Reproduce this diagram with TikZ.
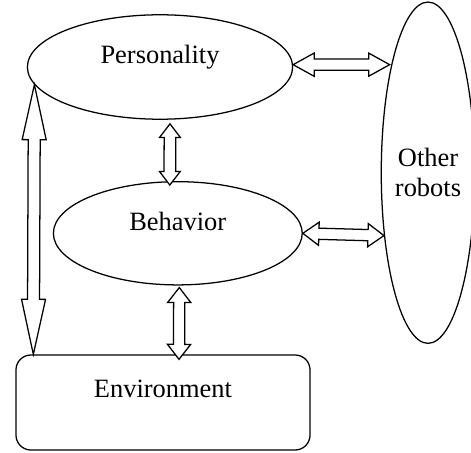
\documentclass[tikz,border=0pt]{standalone}
\usepackage{fontspec}
\setmainfont{Liberation Serif}
\usepackage{tikz}
\usetikzlibrary{shapes.geometric,calc}

\tikzset{
  twoway/.style n args={3}{draw,fill=white,to path={
    let \p1=(\tikztostart), \p2=(\tikztotarget),
        \n1={atan2(\y2-\y1,\x2-\x1)}, \n2={veclen(\x2-\x1,\y2-\y1)} in
    [shift={(\p1)},rotate=\n1]
    (0pt,0pt) -- (#1,#2) -- (#1,#3) -- ({\n2*1pt-#1},#3) -- ({\n2*1pt-#1},#2) -- ({\n2*1pt},0pt)
    -- ({\n2*1pt-#1},-#2) -- ({\n2*1pt-#1},-#3) -- (#1,-#3) -- (#1,-#2) -- cycle}}
}

\begin{document}
\begin{tikzpicture}[x=0.025cm,y=-0.025cm,line width=0.9pt,
  font=\fontsize{18.8}{21.3}\selectfont,
  bubble/.style={ellipse,draw,inner sep=0pt}]
\useasboundingbox (0,0) rectangle (471,452);
\node (pers) at (160,67)    [bubble,minimum width=6.63cm,minimum height=2.61cm,text height=0.5cm,text depth=0.68cm] {Personality};
\node (beh)  at (177.8,233.3) [bubble,minimum width=6.22cm,minimum height=2.58cm,text height=0.5cm,text depth=0.64cm] {Behavior};
\node (oth)  at (428,172.7) [bubble,minimum width=2.3cm,minimum height=8.53cm,align=center] {Other\\robots};
\node (env)  at (163,402.5) [draw,rounded corners=0.375cm,minimum width=7.35cm,minimum height=2.375cm,text height=0.5cm,text depth=0.77cm] {Environment};
\draw[twoway={0.525cm}{0.29cm}{0.14cm}] (pers.1) to ($(pers.1 -| oth.west)+(9,0)$);
\draw[twoway={0.4cm}{0.29cm}{0.14cm}]   (beh.east) to (oth.235);
\draw[twoway={0.34cm}{0.26cm}{0.145cm}] ($(pers.south)+(10,4)$) to ($(beh.north)+(-8,4)$);
\draw[twoway={0.375cm}{0.29cm}{0.14cm}] ($(beh.south)+(1.5,2)$) to ($(env.north)+(16,5)$);
\draw[twoway={1.375cm}{0.3cm}{0.15cm}]  (pers.188) to ($(env.north west)+(18,0)$);
\end{tikzpicture}
\end{document}
